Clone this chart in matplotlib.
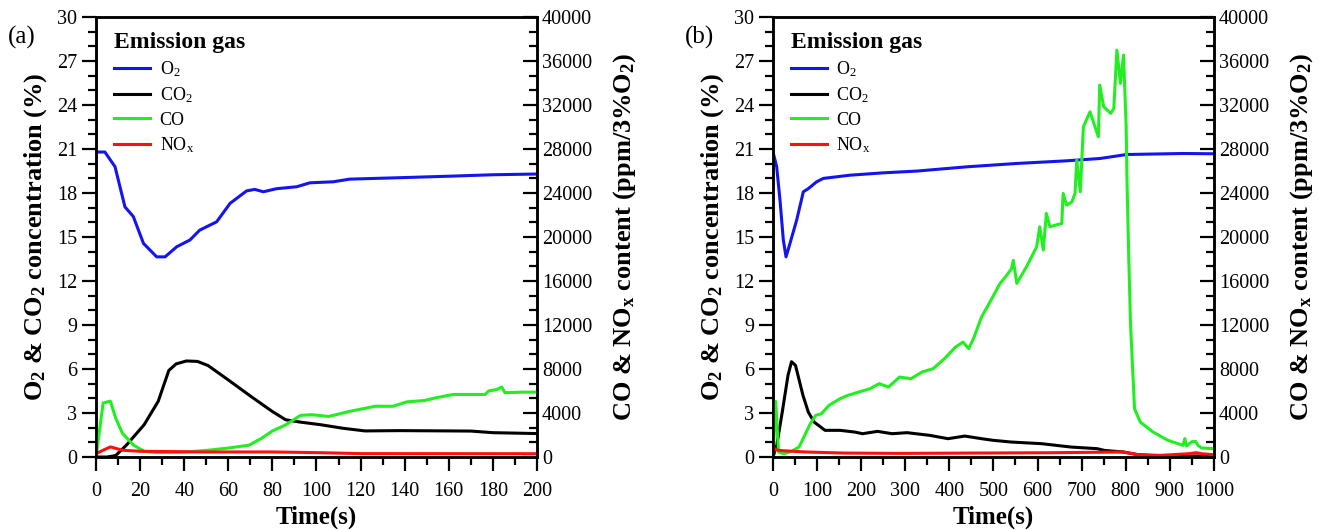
import numpy as np
import matplotlib
matplotlib.use("Agg")
import matplotlib.pyplot as plt
from matplotlib.ticker import MultipleLocator, AutoMinorLocator

plt.rcParams['font.family'] = ['Liberation Serif', 'DejaVu Serif']
plt.rcParams['mathtext.default'] = 'regular'

# ---- panel (a) ----
a_o2_t = [0, 4, 8.6, 13.1, 16.9, 21.5, 27.5, 31.3, 36.6, 42.6, 47, 54.7, 60.8, 68.3, 72, 75.9, 81.9, 91, 97, 107.6, 115, 138, 160, 180, 200]
a_o2 = [20.8, 20.8, 19.8, 17.06, 16.4, 14.57, 13.65, 13.65, 14.34, 14.8, 15.47, 16.04, 17.3, 18.15, 18.25, 18.09, 18.3, 18.43, 18.7, 18.77, 18.95, 19.05, 19.15, 19.25, 19.3]

a_co2_t = [0, 5, 8.9, 13.7, 21.8, 28.2, 33, 36.3, 41, 46, 50.8, 60.5, 70, 80, 86, 92.7, 102, 112, 122, 138, 160, 170, 180, 200]
a_co2 = [0, 0, 0.1, 0.8, 2.2, 3.8, 5.9, 6.35, 6.55, 6.52, 6.24, 5.2, 4.16, 3.1, 2.54, 2.38, 2.2, 1.96, 1.78, 1.8, 1.78, 1.77, 1.66, 1.6]

a_co_t = [0, 3.2, 6.5, 8.9, 12, 17, 21.8, 28, 41, 50.8, 60.5, 69.4, 75, 80, 86, 92.7, 97.6, 105.6, 115, 126.6, 134.7, 141, 149, 154, 162, 170, 176.6, 178, 182, 184, 185.5, 194, 200]
a_co = [0, 4920, 5080, 3540, 2150, 1080, 520, 400, 460, 615, 830, 1080, 1690, 2370, 2920, 3780, 3850, 3690, 4150, 4615, 4615, 5015, 5140, 5380, 5690, 5690, 5690, 6000, 6150, 6370, 5850, 5900, 5900]

a_nox_t = [0, 3, 6.5, 12, 20, 50, 80, 100, 120, 200]
a_nox = [300, 600, 920, 615, 520, 460, 460, 400, 310, 300]

# ---- panel (b) ----
b_o2_t = [0, 8.3, 15.9, 23.4, 29.5, 38.5, 53.6, 68.8, 80, 99, 114, 174.6, 250, 326, 439, 553, 666, 742, 802, 930, 1000]
b_o2 = [20.8, 19.8, 17.5, 14.8, 13.65, 14.57, 16.15, 18.09, 18.3, 18.77, 19.0, 19.22, 19.38, 19.5, 19.79, 20.02, 20.2, 20.36, 20.63, 20.7, 20.68]

b_co2_t = [0, 8.5, 21, 34, 42, 51, 68, 80, 93, 118, 152, 186, 203, 237, 270, 304, 355, 397, 435, 473, 499, 541, 609, 676, 735, 752, 795, 828, 879, 1000]
b_co2 = [0, 0.8, 3.07, 5.57, 6.5, 6.25, 4.2, 3.07, 2.39, 1.82, 1.82, 1.7, 1.59, 1.75, 1.59, 1.66, 1.48, 1.25, 1.43, 1.25, 1.14, 1.02, 0.91, 0.68, 0.57, 0.45, 0.34, 0.16, 0.07, 0.07]

b_co_t = [0, 6, 12.7, 25, 42, 59, 72, 84.5, 97, 110, 127, 152, 169, 194, 220, 241, 262, 287, 313, 338, 363, 389, 414, 431, 444, 456, 473, 490,
          515, 524, 541, 545, 553, 575, 598, 605, 613, 620, 628, 655, 658, 666, 678, 685, 689, 697, 704, 719, 738, 741, 750, 766, 773, 780, 788, 795,
          801, 803, 807, 811, 820, 833, 862, 896, 930, 934, 938, 951, 959, 964, 972, 1000]
b_co = [0, 5060, 450, 300, 515, 910, 1970, 3030, 3790, 3940, 4700, 5300, 5600, 5900, 6210, 6670, 6360, 7270, 7120, 7730, 8030, 8940, 10000, 10450, 9850, 10900, 12730, 13940,
        15790, 16210, 17120, 17880, 15790, 17300, 19120, 20940, 18820, 22150, 20940, 21240, 23970, 22900, 23200, 23970, 27000, 24120, 30030, 31390, 29120, 33820, 31850, 31250, 31700, 37000, 33970, 36550,
        30030, 24880, 18000, 12000, 4390, 3180, 2270, 1515, 1060, 1670, 1000, 1420, 1400, 1060, 820, 760]

b_nox_t = [0, 4, 12.7, 34, 76, 161, 287, 456, 626, 795, 828, 879, 943, 960, 972, 1000]
b_nox = [150, 760, 600, 545, 455, 360, 330, 360, 390, 455, 210, 150, 300, 390, 300, 210]

c_o2, c_co2, c_co, c_nox = '#1414f0', 'black', '#22ee22', '#ff1010'
LW = 2.2


def style_axes(ax, ax2, xmax, xmajor):
    ax.set_xlim(0, xmax)
    ax.set_ylim(0, 30)
    ax2.set_ylim(0, 40000)
    ax.xaxis.set_major_locator(MultipleLocator(xmajor))
    ax.xaxis.set_minor_locator(AutoMinorLocator(2))
    ax.yaxis.set_major_locator(MultipleLocator(3))
    ax.yaxis.set_minor_locator(AutoMinorLocator(3))
    ax2.yaxis.set_major_locator(MultipleLocator(4000))
    ax2.yaxis.set_minor_locator(AutoMinorLocator(3))
    for a in (ax, ax2):
        for s in a.spines.values():
            s.set_linewidth(1.8)
    ax.tick_params(which='major', direction='out', length=10, width=1.6, labelsize=14.5)
    ax.tick_params(axis='x', which='major', pad=8)
    ax.tick_params(which='minor', direction='out', length=6, width=1.6)
    ax2.tick_params(which='major', direction='in', length=10, width=1.6, labelsize=14.5)
    ax2.tick_params(which='minor', direction='in', length=6, width=1.6)
    ax.set_xlabel('Time(s)', fontsize=18, fontweight='bold', labelpad=3)
    ax.set_ylabel('O$_2$ & CO$_2$ concentration (%)', fontsize=19, fontweight='bold', labelpad=6)
    ax2.set_ylabel('CO & NO$_x$ content (ppm/3%O$_2$)', fontsize=19, fontweight='bold', labelpad=14)


fig = plt.figure(figsize=(13.36, 5.30), dpi=100)
panels = [
    (0.0719, a_o2_t, a_o2, a_co2_t, a_co2, a_co_t, a_co, a_nox_t, a_nox, 200, 20, '(a)'),
    (0.5786, b_o2_t, b_o2, b_co2_t, b_co2, b_co_t, b_co, b_nox_t, b_nox, 1000, 100, '(b)'),
]
for left, o2t, o2, co2t, co2, cot, co, noxt, nox, xmax, xmajor, tag in panels:
    ax = fig.add_axes([left, 0.1377, 0.330, 0.830])
    ax2 = ax.twinx()
    l1, = ax.plot(o2t, o2, color=c_o2, lw=LW, label='O$_2$')
    l2, = ax.plot(co2t, co2, color=c_co2, lw=LW, label='CO$_2$')
    l3, = ax2.plot(cot, co, color=c_co, lw=LW, label='CO')
    l4, = ax2.plot(noxt, nox, color=c_nox, lw=LW, label='NO$_x$')
    style_axes(ax, ax2, xmax, xmajor)
    leg = ax2.legend(handles=[l1, l2, l3, l4], title='Emission gas', loc='upper left',
                     bbox_to_anchor=(0.017, 0.99), frameon=False, fontsize=13,
                     handlelength=2.0, handletextpad=0.5, labelspacing=0.35,
                     borderaxespad=0.2, alignment='left',
                     title_fontproperties={'size': 17, 'weight': 'bold'})
    fig.text(left - 0.066, 0.93, tag, fontsize=18, ha='left', va='center')

fig.savefig('out.png', dpi=100)
